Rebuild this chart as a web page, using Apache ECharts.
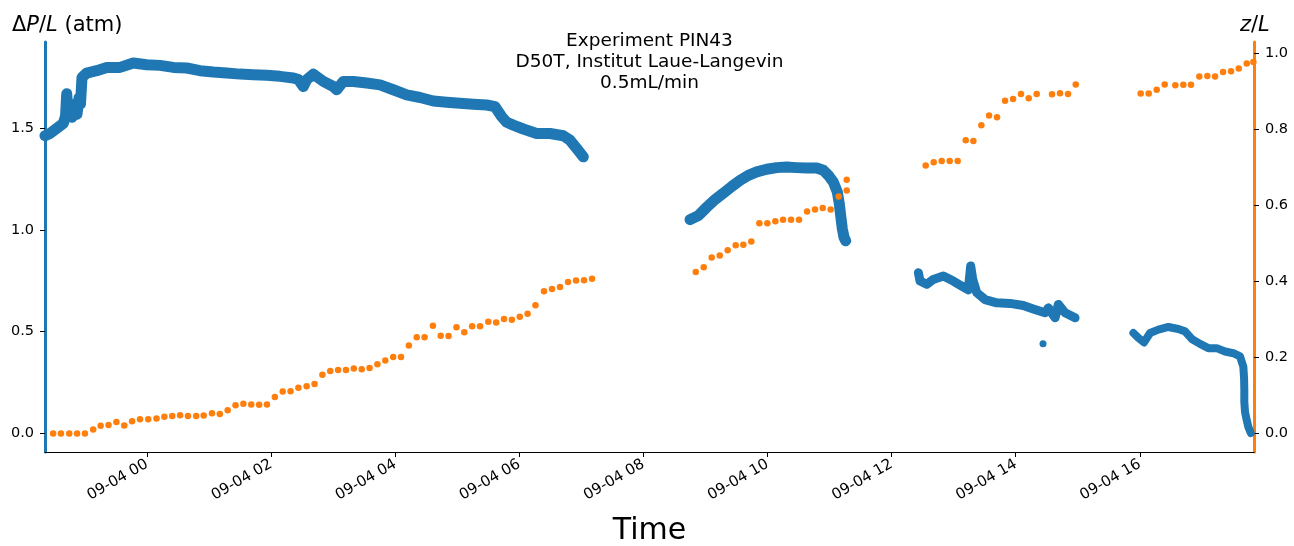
<!DOCTYPE html>
<html><head><meta charset="utf-8">
<script src="https://cdn.jsdelivr.net/npm/echarts@6/dist/echarts.min.js"></script>
<style>html,body{margin:0;padding:0;background:#fff}#c{width:1294px;height:546px}</style>
</head><body><div id="c"></div>
<script>
// x values are hours relative to 09-04 00:00
const xTickHours = [0, 2, 4, 6, 8, 10, 12, 14, 16];
const xTickLabels = ['09-04 00','09-04 02','09-04 04','09-04 06','09-04 08','09-04 10','09-04 12','09-04 14','09-04 16'];
const leftTicks = [0, 0.5, 1.0, 1.5];
const rightTicks = [0, 0.2, 0.4, 0.6, 0.8, 1.0];
const titleLines = ['Experiment PIN43', 'D50T, Institut Laue-Langevin', '0.5mL/min'];

// ΔP/L (atm), [hour, value]
const pressureSeg1 = [[-1.644,1.464],[-1.563,1.475],[-1.455,1.50],[-1.349,1.525],[-1.313,1.56],[-1.294,1.67],[-1.273,1.58],[-1.241,1.62],[-1.209,1.555],[-1.160,1.60],[-1.128,1.57],[-1.096,1.65],[-1.072,1.62],[-1.048,1.75],[-0.972,1.772],[-0.811,1.784],[-0.649,1.80],[-0.435,1.80],[-0.221,1.822],[-0.005,1.813],[0.209,1.81],[0.424,1.80],[0.64,1.797],[0.854,1.784],[1.068,1.777],[1.284,1.772],[1.499,1.767],[1.713,1.764],[1.929,1.761],[2.143,1.756],[2.358,1.748],[2.44,1.74],[2.519,1.706],[2.574,1.74],[2.68,1.767],[2.841,1.731],[3.002,1.706],[3.057,1.69],[3.164,1.731],[3.325,1.731],[3.541,1.723],[3.755,1.714],[3.969,1.69],[4.185,1.665],[4.4,1.652],[4.614,1.635],[4.83,1.629],[5.044,1.624],[5.259,1.619],[5.475,1.615],[5.608,1.607],[5.716,1.558],[5.797,1.53],[5.903,1.516],[6.064,1.497],[6.28,1.475],[6.495,1.475],[6.709,1.464],[6.817,1.442],[6.925,1.401],[7.031,1.36]];
const pressureSeg2 = [[8.751,1.051],[8.885,1.071],[9.02,1.112],[9.154,1.15],[9.288,1.181],[9.423,1.214],[9.557,1.244],[9.69,1.269],[9.826,1.286],[9.987,1.299],[10.148,1.307],[10.309,1.31],[10.47,1.307],[10.632,1.305],[10.793,1.305],[10.9,1.294],[10.98,1.269],[11.06,1.236],[11.125,1.187],[11.157,1.129],[11.179,1.071],[11.206,1.005],[11.233,0.964],[11.26,0.947]];
const pressureSeg3 = [[12.431,0.79],[12.458,0.749],[12.565,0.733],[12.672,0.757],[12.833,0.774],[12.994,0.749],[13.13,0.724],[13.236,0.705],[13.274,0.823],[13.307,0.757],[13.372,0.692],[13.505,0.658],[13.693,0.642],[13.908,0.639],[14.122,0.629],[14.283,0.612],[14.472,0.593],[14.526,0.617],[14.634,0.568],[14.687,0.634],[14.795,0.593],[14.956,0.568]];
const pressureSeg4 = [[15.896,0.4935],[15.977,0.469],[16.068,0.447],[16.165,0.4935],[16.299,0.51],[16.46,0.523],[16.621,0.513],[16.729,0.5015],[16.837,0.464],[16.97,0.44],[17.104,0.419],[17.239,0.419],[17.373,0.4025],[17.507,0.394],[17.615,0.378],[17.668,0.328],[17.68,0.271],[17.684,0.213],[17.684,0.155],[17.695,0.1055],[17.723,0.064],[17.749,0.031],[17.788,0.0015]];
const pressureOutlier = [[14.44,0.44]];

// z/L, [hour, value]
const frontPos = [[-1.513,0],[-1.387,0],[-1.253,0],[-1.127,0],[-1.0,0],[-0.867,0.0105],[-0.747,0.020],[-0.62,0.022],[-0.493,0.030],[-0.367,0.021],[-0.24,0.032],[-0.113,0.037],[0.02,0.037],[0.153,0.039],[0.28,0.044],[0.407,0.046],[0.533,0.048],[0.66,0.046],[0.793,0.046],[0.913,0.047],[1.047,0.053],[1.173,0.051],[1.3,0.061],[1.427,0.074],[1.553,0.078],[1.68,0.076],[1.807,0.075],[1.933,0.076],[2.06,0.096],[2.187,0.110],[2.313,0.111],[2.44,0.120],[2.573,0.124],[2.7,0.130],[2.827,0.154],[2.953,0.164],[3.08,0.167],[3.207,0.167],[3.333,0.171],[3.46,0.169],[3.587,0.172],[3.713,0.182],[3.84,0.192],[3.967,0.201],[4.093,0.201],[4.22,0.231],[4.347,0.253],[4.473,0.253],[4.607,0.283],[4.733,0.257],[4.86,0.256],[4.987,0.279],[5.113,0.266],[5.24,0.282],[5.367,0.282],[5.5,0.294],[5.627,0.292],[5.753,0.301],[5.88,0.299],[6.007,0.307],[6.133,0.315],[6.26,0.337],[6.398,0.374],[6.527,0.380],[6.656,0.385],[6.785,0.398],[6.914,0.402],[7.043,0.403],[7.172,0.407],
[8.843,0.4245],[8.972,0.437],[9.10,0.463],[9.23,0.468],[9.358,0.482],[9.487,0.495],[9.61,0.4965],[9.739,0.505],[9.868,0.553],[9.997,0.553],[10.126,0.558],[10.25,0.562],[10.379,0.562],[10.508,0.562],[10.637,0.584],[10.765,0.589],[10.889,0.593],[11.018,0.589],[11.147,0.623],[11.276,0.639],[11.276,0.667],
[12.549,0.7045],[12.678,0.713],[12.807,0.7166],[12.936,0.7166],[13.065,0.7166],[13.194,0.771],[13.318,0.769],[13.446,0.8105],[13.57,0.836],[13.699,0.8316],[13.828,0.875],[13.957,0.880],[14.085,0.893],[14.209,0.8816],[14.338,0.893],[14.585,0.892],[14.714,0.8947],[14.843,0.893],[14.967,0.9176],
[16.014,0.894],[16.143,0.894],[16.272,0.904],[16.401,0.918],[16.572,0.916],[16.701,0.9175],[16.825,0.9175],[16.959,0.939],[17.088,0.940],[17.212,0.939],[17.341,0.951],[17.47,0.953],[17.594,0.96],[17.723,0.973],[17.83,0.977]];

const FONT = 'DejaVu Sans';
const BLUE = '#1f77b4', ORANGE = '#ff7f0e';
const chart = echarts.init(document.getElementById('c'), null, {renderer: 'canvas'});

function bandSeries(data, width) {
  return {
    type: 'line', yAxisIndex: 0, data: data, showSymbol: false, symbol: 'none',
    lineStyle: {color: BLUE, width: width, cap: 'round', join: 'round'},
    silent: true, z: 2
  };
}

const option = {
  animation: false,
  backgroundColor: '#fff',
  grid: {left: 45, right: 40, top: 42, bottom: 94, containLabel: false, outerBoundsMode: 'none'},
  xAxis: {
    type: 'value', min: -1.644, max: 17.84,
    axisLine: {show: true, onZero: false, lineStyle: {color: '#000', width: 1.2}},
    axisTick: {show: true, customValues: xTickHours, length: 5, lineStyle: {color: '#000', width: 1}},
    axisLabel: {
      show: true, customValues: xTickHours, rotate: 30, margin: 11,
      formatter: v => xTickLabels[xTickHours.indexOf(Math.round(v))] || '',
      fontFamily: FONT, fontSize: 15, color: '#000'
    },
    splitLine: {show: false},
    name: 'Time', nameLocation: 'middle', nameGap: 64,
    nameTextStyle: {fontFamily: FONT, fontSize: 30, color: '#000'}
  },
  yAxis: [
    {
      type: 'value', min: -0.092, max: 1.925, position: 'left',
      axisLine: {show: true, onZero: false, lineStyle: {color: BLUE, width: 3}},
      axisTick: {show: true, customValues: leftTicks, length: 5, lineStyle: {color: '#000', width: 1}},
      axisLabel: {customValues: leftTicks, formatter: v => v.toFixed(1), margin: 11, fontFamily: FONT, fontSize: 14.5, color: '#000'},
      splitLine: {show: false}
    },
    {
      type: 'value', min: -0.049, max: 1.0297, position: 'right',
      axisLine: {show: true, onZero: false, lineStyle: {color: ORANGE, width: 3}},
      axisTick: {show: true, customValues: rightTicks, length: 5, lineStyle: {color: '#000', width: 1}},
      axisLabel: {customValues: rightTicks, formatter: v => v.toFixed(1), margin: 11, fontFamily: FONT, fontSize: 14.5, color: '#000'},
      splitLine: {show: false}
    }
  ],
  graphic: [
    {type: 'text', x: 649.5, y: 31, z: 10, style: {
      text: titleLines.join('\n'), textAlign: 'center', textVerticalAlign: 'top',
      fontFamily: FONT, fontSize: 18.5, lineHeight: 21, fill: '#000'}},
    {type: 'text', x: 12, y: 26, z: 10, style: {
      text: '{n|Δ}{i|P}{n|/}{i|L}{n| (atm)}', textVerticalAlign: 'middle', textAlign: 'left',
      rich: {
        n: {fontFamily: FONT, fontSize: 21, fill: '#000'},
        i: {fontFamily: FONT, fontSize: 21, fontStyle: 'italic', fill: '#000'}
      }}},
    {type: 'text', x: 1240, y: 26, z: 10, style: {
      text: '{i|z}{n|/}{i|L}', textVerticalAlign: 'middle', textAlign: 'left',
      rich: {
        n: {fontFamily: FONT, fontSize: 21, fill: '#000'},
        i: {fontFamily: FONT, fontSize: 21, fontStyle: 'italic', fill: '#000'}
      }}}
  ],
  series: [
    bandSeries(pressureSeg1, 11),
    bandSeries(pressureSeg2, 11),
    bandSeries(pressureSeg3, 9),
    bandSeries(pressureSeg4, 8),
    {type: 'scatter', yAxisIndex: 0, data: pressureOutlier, symbolSize: 7, itemStyle: {color: BLUE, opacity: 1}, z: 2},
    {type: 'scatter', yAxisIndex: 1, data: frontPos, symbolSize: 6.5, itemStyle: {color: ORANGE, opacity: 1}, z: 3}
  ]
};
chart.setOption(option);
</script>
</body></html>
